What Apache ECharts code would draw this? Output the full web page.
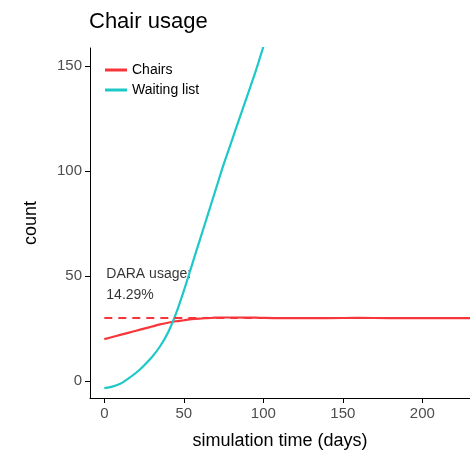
<!DOCTYPE html>
<html><head><meta charset="utf-8">
<script src="https://cdn.jsdelivr.net/npm/echarts@6/dist/echarts.min.js"></script>
<style>body{margin:0}#c{width:470px;height:460px}</style>
</head><body><div id="c"></div>
<script>
var days = [0,5,10,15,20,25,30,35,40,45,50,55,60,65,70,75,80,85,90,95,100,110,120,140,160,180,200,220,230];
var chairs = [20,21,22,23,24,25,26,27,27.8,28.5,29,29.5,29.8,30,30.2,30.3,30.3,30.3,30.2,30.2,30.1,30,30,30,30.1,30,30,30,30];
var waiting = [-3.3,-2.6,-1.2,1.2,4,7.5,11.5,16.5,23,32,43,55,67,79,91,103,114,125,136,147,159,null,null,null,null,null,null,null,null];
var usageLevel = 30;
var xTicks = [0,50,100,150,200];
var yTicks = [0,50,100,150];
function pairs(y){ return days.map(function(d,i){ return [d,y[i]]; }).filter(function(p){return p[1]!=null;}); }
var chart = echarts.init(document.getElementById('c'));
chart.setOption({
  animation:false,
  title:{text:'Chair usage',left:84,top:6,textStyle:{fontFamily:'Liberation Sans',fontSize:22,fontWeight:'normal',color:'#000'}},
  grid:{left:90,right:0,top:48,bottom:62},
  legend:{left:100,top:58,orient:'vertical',itemGap:6,itemWidth:22,icon:'rect',itemHeight:3,
    textStyle:{fontFamily:'Liberation Sans',fontSize:14,color:'#000'},data:['Chairs','Waiting list']},
  xAxis:{type:'value',min:-9,max:230,name:'simulation time (days)',nameLocation:'middle',nameGap:34,
    nameTextStyle:{fontFamily:'Liberation Sans',fontSize:18,color:'#000'},
    axisLine:{onZero:false,lineStyle:{color:'#000'}},splitLine:{show:false},
    axisLabel:{fontFamily:'Liberation Sans',fontSize:15,color:'#4d4d4d',customValues:xTicks},
    axisTick:{customValues:xTicks,length:5,lineStyle:{color:'#000'}}},
  yAxis:{type:'value',min:-8,max:158.5,name:'count',nameLocation:'middle',nameGap:50,
    nameTextStyle:{fontFamily:'Liberation Sans',fontSize:18,color:'#000'},
    axisLine:{show:true,onZero:false,lineStyle:{color:'#000'}},splitLine:{show:false},
    axisLabel:{fontFamily:'Liberation Sans',fontSize:15,color:'#4d4d4d',customValues:yTicks},
    axisTick:{show:true,customValues:yTicks,length:5,lineStyle:{color:'#000'}}},
  series:[
    {name:'Chairs',type:'line',smooth:0.3,showSymbol:false,data:pairs(chairs),lineStyle:{color:'#f8363a',width:2.2},itemStyle:{color:'#f8363a'},
      markLine:{silent:true,symbol:'none',label:{show:false},lineStyle:{color:'#f8363a',type:[8,6],width:2},
        data:[[{coord:[0,usageLevel]},{coord:[230,usageLevel]}]]}},
    {name:'Waiting list',type:'line',smooth:0.3,showSymbol:false,data:pairs(waiting),lineStyle:{color:'#1ec8c8',width:2.2},itemStyle:{color:'#1ec8c8'}},
    {type:'scatter',symbolSize:0,data:[[0,46]],silent:true,
      label:{show:true,position:'right',distance:2,formatter:'DARA usage:\n14.29%',align:'left',lineHeight:21,
        fontFamily:'Liberation Sans',fontSize:14,color:'#000'}}
  ]
});
</script></body></html>
